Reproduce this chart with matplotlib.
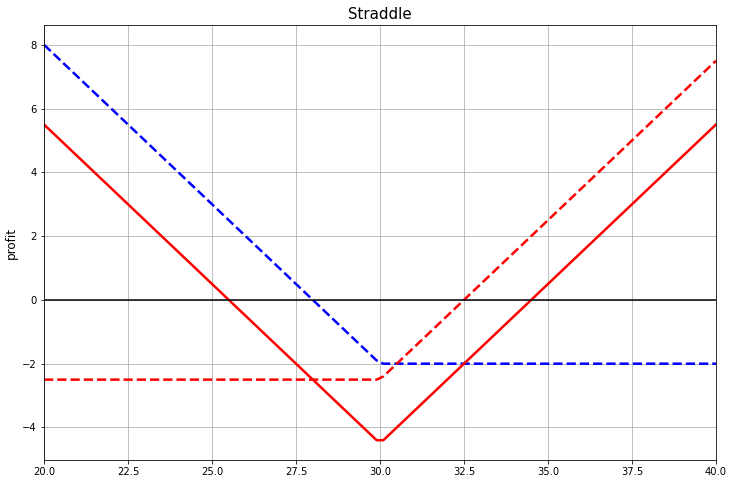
import matplotlib
matplotlib.use("Agg")
import matplotlib.pyplot as plt

# vertices
x_pts = [20.0, 29.9, 30.1, 40.0]
long_put = [8.0, -1.9, -2.0, -2.0]
long_call = [-2.5, -2.5, -2.4, 7.5]
straddle = [5.5, -4.4, -4.4, 5.5]

W, H = 733, 484
dpi = 72
fig = plt.figure(figsize=(W / dpi, H / dpi), dpi=dpi)
ax = fig.add_axes([44 / W, 1 - 460 / H, (716 - 44) / W, (460 - 25) / H])

ax.plot(x_pts, long_put, "b--", lw=2.5)
ax.plot(x_pts, long_call, "r--", lw=2.5)
ax.plot(x_pts, straddle, "r-", lw=2.5)
ax.axhline(0, color="black", lw=1.5)
ax.grid(True)
ax.set_xlim(20, 40)
ax.set_title("Straddle", fontsize=15)
ax.set_ylabel("profit", fontsize=12)
ax.tick_params(labelsize=10)

fig.savefig("out.png", dpi=dpi)
